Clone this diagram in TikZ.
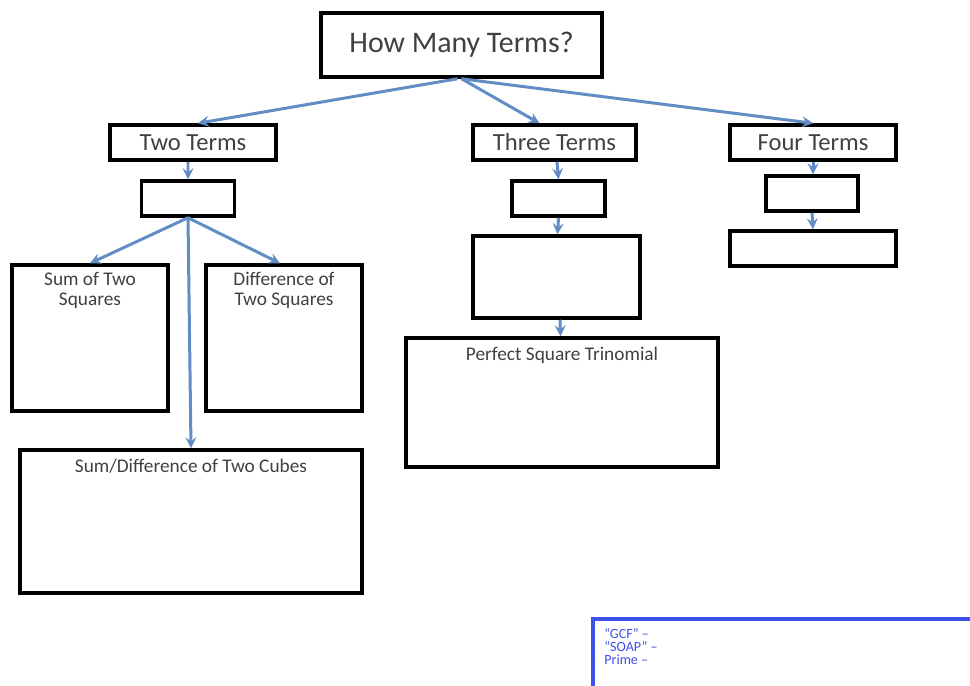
\documentclass[tikz,border=0pt]{standalone}
\usepackage{fontspec}
\setmainfont{Carlito}
\usepackage{tikz}
\usetikzlibrary{arrows,positioning,calc}

\definecolor{arrowblue}{RGB}{98,140,196}
\definecolor{txtgray}{RGB}{64,64,64}
\definecolor{keyblue}{RGB}{60,80,235}

\begin{document}
\begin{tikzpicture}[
    x=0.02cm, y=-0.02cm,
    box/.style={rectangle, draw, line width=2pt, inner sep=0pt, text=txtgray},
    small/.style={box, minimum width=3.32cm, minimum height=0.70cm, font=\fontsize{14}{16}\selectfont},
    blank/.style={box, minimum width=1.86cm, minimum height=0.70cm},
    caption/.style={text=txtgray, align=center, inner sep=0pt, font=\fontsize{11}{11}\selectfont},
    arrow/.style={->, >=stealth, line width=1.7pt, color=arrowblue}
]
\useasboundingbox (0,0) rectangle (970,686);

% top question
\node[box, minimum width=5.62cm, minimum height=1.28cm, font=\fontsize{17}{20}\selectfont] (question) at (461.5,45) {How Many Terms?};

% first level
\node[small] (two) at (193,142.5) {Two Terms};
\node[small, minimum width=3.26cm] (three) at (554.5,142.5) {Three Terms};
\node[small] (four) at (813,142.5) {Four Terms};

% empty boxes
\node[blank] (twoa) at (188,198.5) {};
\node[blank] (threea) at (558.5,198.5) {};
\node[blank, minimum width=1.84cm] (foura) at (812,193.5) {};
\node[box, minimum width=3.32cm, minimum height=0.70cm] (fourb) at (813,248.5) {};
\node[box, minimum width=3.34cm, minimum height=1.64cm] (threeb) at (556.5,277) {};

% big boxes
\node[box, minimum width=3.12cm, minimum height=2.92cm] (sum) at (90,338) {};
\node[box, minimum width=3.12cm, minimum height=2.92cm] (diff) at (284,338) {};
\node[box, minimum width=6.84cm, minimum height=2.86cm] (cubes) at (191,521.5) {};
\node[box, minimum width=6.24cm, minimum height=2.58cm] (pst) at (562,402.5) {};

\node[caption, below=0.18cm of sum.north] (sumtxt) {Sum of Two\\Squares};
\node[caption, below=0.18cm of diff.north] (difftxt) {Difference of\\Two Squares};
\node[caption, below=0.2cm of cubes.north] (cubestxt) {Sum/Difference of Two Cubes};
\node[caption, below=0.2cm of pst.north] (psttxt) {Perfect Square Trinomial};

% key box
\draw[keyblue, line width=2pt] (593,619) rectangle (990,700);
\node[anchor=north west, text=keyblue, align=left, inner sep=0pt, font=\fontsize{8}{7.4}\selectfont] (key) at (604,628) {``GCF'' --\\``SOAP'' --\\Prime --};

% arrows
\draw[arrow] ([xshift=-0.08cm]question.south) -- ([xshift=0.1cm]two.north);
\draw[arrow] (question.south) -- ([xshift=-0.3cm]three.north);
\draw[arrow] (question.south) -- (four.north);

\draw[arrow] ([xshift=-0.1cm]two.south) -- (twoa.north);
\draw[arrow] (twoa.south) -- (sum.north);
\draw[arrow] (twoa.south) -- ([xshift=-0.08cm]diff.north);
\draw[arrow] (twoa.south) -- (cubes.north);

\draw[arrow] ([xshift=0.05cm]three.south) -- (threea.north);
\draw[arrow] (threea.south) -- ([xshift=0.02cm]threeb.north);
\draw[arrow] ([xshift=0.07cm]threeb.south) -- ([xshift=-0.03cm]pst.north);

\draw[arrow] (four.south) -- ([xshift=0.02cm]foura.north);
\draw[arrow] (foura.south) -- (fourb.north);

\end{tikzpicture}
\end{document}
